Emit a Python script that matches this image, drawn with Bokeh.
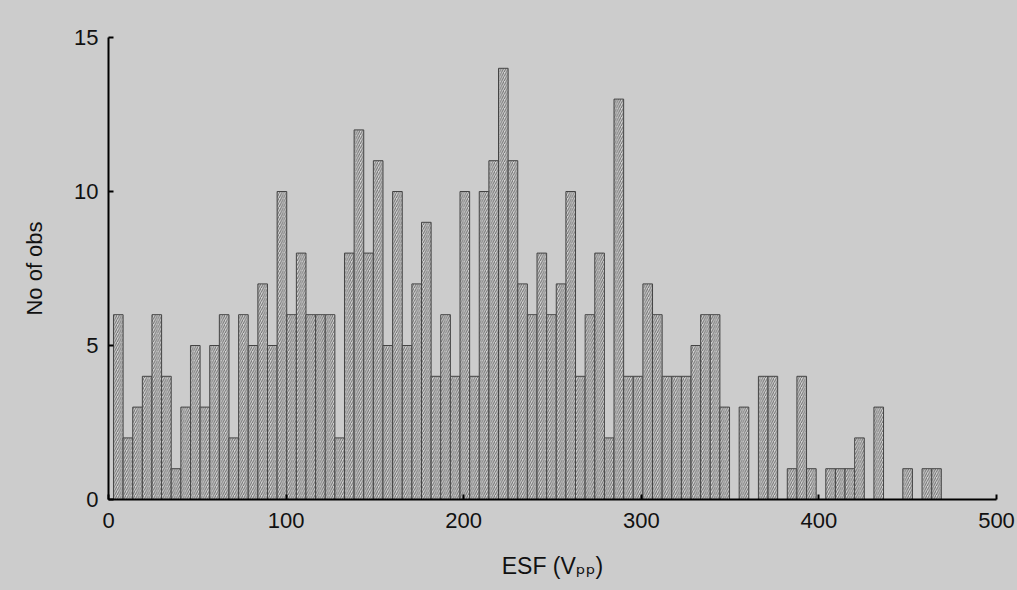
import numpy as np
from bokeh.plotting import figure
from bokeh.models import ColumnDataSource, Range1d, FixedTicker
from bokeh.embed import file_html
from bokeh.resources import INLINE

# Histogram counts, one per bin (left to right)
counts = [6, 2, 3, 4, 6, 4, 1, 3, 5, 3, 5, 6, 2, 6, 5, 7, 5, 10, 6, 8, 6, 6, 6,
          2, 8, 12, 8, 11, 5, 10, 5, 7, 9, 4, 6, 4, 10, 4, 10, 11, 14, 11, 7, 6, 8, 6,
          7, 10, 4, 6, 8, 2, 13, 4, 4, 7, 6, 4, 4, 4, 5, 6, 6, 3, 0, 3, 0, 4, 4,
          0, 1, 4, 1, 0, 1, 1, 1, 2, 0, 3, 0, 0, 1, 0, 1, 1]
bin_start = 2.8      # ESF value of first bin's left edge
bin_width = 5.42     # ESF bin width
x_ticks = [0, 100, 200, 300, 400, 500]
y_ticks = [0, 5, 10, 15]
x_title = "ESF (V\u209a\u209a)"
y_title = "No of obs"

n = len(counts)
left = bin_start + bin_width * np.arange(n)
right = left + bin_width
src = ColumnDataSource(dict(left=left, right=right, top=counts, bottom=[0] * n))

BG = "#cccccc"
FONT = "Liberation Sans, Arial, DejaVu Sans, sans-serif"

p = figure(width=1017, height=590, output_backend="svg", toolbar_location=None,
           x_range=Range1d(0, 500), y_range=Range1d(0, 15),
           min_border_left=108, min_border_right=21, min_border_top=37, min_border_bottom=91)
p.styles = {"background-color": BG}
p.background_fill_color = BG
p.border_fill_color = BG
p.outline_line_color = None
p.grid.visible = False

p.quad(left="left", right="right", top="top", bottom="bottom", source=src,
       fill_color="#d6d6d6", line_color="#444444", line_width=1,
       hatch_pattern="/", hatch_color="#6e6e6e", hatch_scale=4.5, hatch_weight=1)

for ax in (p.xaxis[0], p.yaxis[0]):
    ax.axis_line_width = 2
    ax.axis_line_color = "black"
    ax.major_tick_line_width = 2
    ax.major_tick_line_color = "black"
    ax.major_tick_in = 5
    ax.major_tick_out = 0
    ax.minor_tick_line_color = None
    ax.major_label_text_font = FONT
    ax.major_label_text_font_size = "22px"
    ax.major_label_text_color = "#111111"
    ax.axis_label_text_font = FONT
    ax.axis_label_text_font_style = "normal"
    ax.axis_label_text_color = "#111111"

p.xaxis.ticker = FixedTicker(ticks=x_ticks)
p.yaxis.ticker = FixedTicker(ticks=y_ticks)
p.xaxis.major_label_standoff = 13
p.yaxis.major_label_standoff = 10

p.yaxis.axis_label = y_title
p.yaxis.axis_label_text_font_size = "22px"
p.yaxis.axis_label_standoff = 24

p.xaxis.axis_label = x_title
p.xaxis.axis_label_text_font_size = "23px"
p.xaxis.axis_label_standoff = 22

open("out.html", "w").write(file_html(p, INLINE))
